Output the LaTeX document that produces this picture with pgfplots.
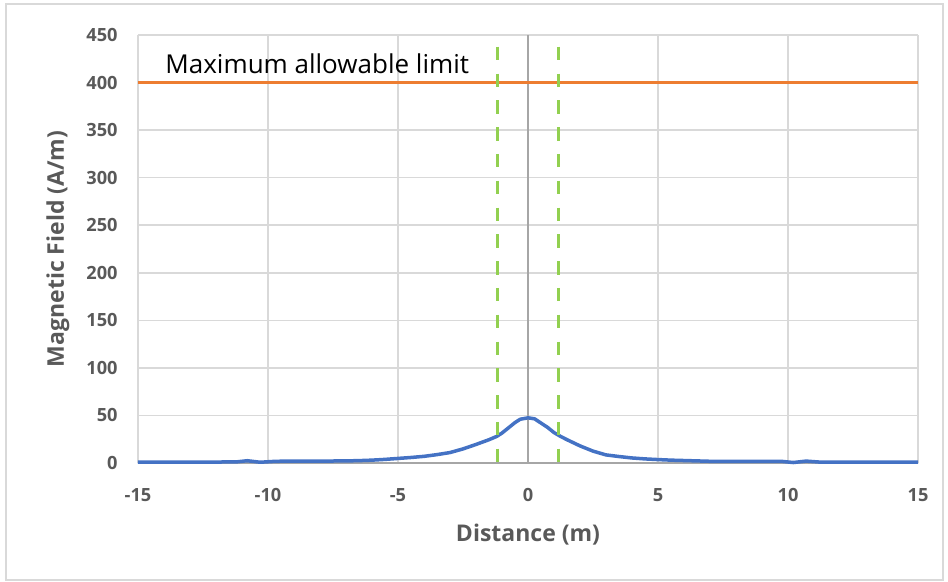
\documentclass[border=0pt]{standalone}
\usepackage{pgfplots}
\pgfplotsset{compat=1.18}
\usepackage{fontspec}
\setmainfont{Open Sans}
\definecolor{gridc}{HTML}{D9D9D9}
\definecolor{axc}{HTML}{A6A6A6}
\definecolor{txtc}{HTML}{595959}
\definecolor{blu}{HTML}{4472C4}
\definecolor{ora}{HTML}{ED7D31}
\definecolor{grn}{HTML}{92D050}
\begin{document}
\begin{tikzpicture}
\path[use as bounding box] (-69bp,-59.5bp) rectangle (405bp,231.5bp);
\draw[gridc, line width=0.75bp] (-66bp,-58.5bp) rectangle (402.5bp,229.5bp);
\begin{axis}[
  at={(0,0)}, anchor=south west,
  scale only axis,
  width=390bp, height=214bp,
  xmin=-15, xmax=15, ymin=0, ymax=450,
  axis line style={draw=none},
  major tick length=0pt,
  xtick={-15,-10,-5,0,5,10,15},
  xticklabels={-15,-10,-5,0,5,10,15},
  ytick={0,50,100,150,200,250,300,350,400,450},
  yticklabels={0,50,100,150,200,250,300,350,400,450},
  grid=major,
  grid style={gridc, line width=0.75bp},
  xticklabel style={font=\fontsize{9.1bp}{11bp}\selectfont\bfseries, text=txtc, inner sep=0pt, anchor=base, yshift=-19.25bp},
  yticklabel style={font=\fontsize{9.1bp}{11bp}\selectfont\bfseries, text=txtc, inner sep=0pt, anchor=east, xshift=-10bp},
  xlabel={Distance (m)},
  ylabel={Magnetic Field (A/m)},
  xlabel style={font=\fontsize{11.5bp}{13bp}\selectfont\bfseries, text=txtc, inner sep=0pt, at={(axis description cs:0.5,0)}, anchor=base, yshift=-39.3bp},
  ylabel style={font=\fontsize{11.5bp}{13bp}\selectfont\bfseries, text=txtc, inner sep=0pt, at={([xshift=-40bp]axis description cs:0,0.5)}, anchor=center},
  clip=false,
]
% axis lines
\addplot[axc, line width=1bp] coordinates {(-15,0) (15,0)};
\addplot[axc, line width=1bp] coordinates {(0,0) (0,450)};
% limit
\addplot[ora, line width=1.5bp] coordinates {(-15,400) (15,400)};
% field curve
\addplot[blu, line width=1.75bp, line join=round] coordinates {
(-15,1) (-14,1) (-13,1) (-12,1) (-11.2,1.2) (-10.8,2.4) (-10.3,0.8) (-9.7,1.8)
(-9,2) (-8,2) (-7,2.2) (-6.5,2.5) (-6,3) (-5.5,3.8) (-5,4.8) (-4.5,5.8) (-4,7)
(-3.5,8.8) (-3,11) (-2.5,14.8) (-2,19.5) (-1.5,24.5) (-1.2,28) (-1,31.5)
(-0.75,37) (-0.5,42.5) (-0.3,46) (0,47.5) (0.25,46.5) (0.5,42) (0.75,37.5)
(1,32) (1.25,28) (1.5,24.5) (2,18) (2.5,12.5) (3,8.5) (3.5,6.8) (4,5.3)
(4.5,4.3) (5,3.6) (5.5,3) (6,2.6) (6.5,2.2) (7,1.8) (8,1.8) (9,1.8) (9.8,1.6)
(10.2,0.5) (10.7,2) (11.2,1) (12,1) (13,1) (14,1) (15,1)
};
% boundaries
\addplot[grn, line width=1.5bp, dash pattern=on 6.7bp off 6.7bp] coordinates {(-1.18,437.7) (-1.18,0)};
\addplot[grn, line width=1.5bp, dash pattern=on 6.7bp off 6.7bp] coordinates {(1.17,437.7) (1.17,0)};
\node[anchor=base west, inner sep=0pt, font=\fontsize{13bp}{15bp}\selectfont, text=black] at (axis cs:-13.96,409.8) {Maximum allowable limit};
\end{axis}
\end{tikzpicture}
\end{document}
